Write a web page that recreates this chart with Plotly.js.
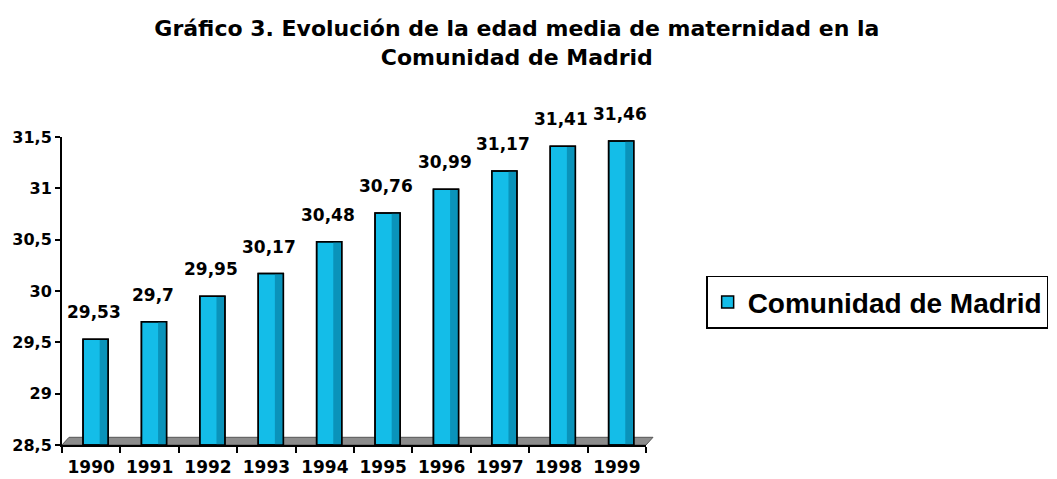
<!DOCTYPE html>
<html><head><meta charset="utf-8">
<script src="https://cdn.plot.ly/plotly-3.0.1.min.js"></script>
<style>body{margin:0;background:#fff}#c{width:1057px;height:479px}</style>
</head><body><div id="c"></div>
<script>
const years = ['1990','1991','1992','1993','1994','1995','1996','1997','1998','1999'];
const edadMedia = [29.53, 29.7, 29.95, 30.17, 30.48, 30.76, 30.99, 31.17, 31.41, 31.46];
const valueLabels = ['29,53','29,7','29,95','30,17','30,48','30,76','30,99','31,17','31,41','31,46'];
const seriesName = 'Comunidad de Madrid';

const ARIAL = 'Liberation Sans, Arial, sans-serif';
const WIDE = 'DejaVu Sans, Verdana, sans-serif';
const BASE = 28.5;
const heights = edadMedia.map(v => v - BASE);

const barMain = {
  type: 'bar', x: years, y: heights, base: BASE, name: seriesName,
  width: 0.43, offset: -0.14,
  marker: {color: '#14bde8', line: {color: '#000', width: 1.5}},
  hoverinfo: 'skip', showlegend: true
};
// darker right-hand shading of the same bars (cylinder look)
const barShade = {
  type: 'bar', x: years, y: heights, base: BASE, name: seriesName,
  width: 0.13, offset: 0.145,
  marker: {color: '#0a93ba', line: {width: 0}},
  hoverinfo: 'skip', showlegend: false
};
const barOutline = {
  type: 'bar', x: years, y: heights, base: BASE, name: seriesName,
  width: 0.43, offset: -0.14,
  marker: {color: 'rgba(0,0,0,0)', line: {color: '#000', width: 1.5}},
  hoverinfo: 'skip', showlegend: false
};

const annotations = years.map((yr, i) => ({
  x: i, y: edadMedia[i], xref: 'x', yref: 'y',
  text: '<b>' + valueLabels[i] + '</b>', showarrow: false,
  yanchor: 'bottom', yshift: 15, xshift: 3,
  font: {family: WIDE, size: 17, color: '#000'}
}));

const layout = {
  width: 1057, height: 479,
  margin: {l: 62, r: 411, t: 137, b: 34, autoexpand: false},
  paper_bgcolor: '#fff', plot_bgcolor: '#fff',
  separators: ',.',
  barmode: 'overlay',
  title: {text: '<b>Gráfico 3. Evolución de la edad media de maternidad en la<br>Comunidad de Madrid</b>',
          x: 0.489, xanchor: 'center', xref: 'container', yref: 'container', y: 0.924, yanchor: 'top',
          font: {family: WIDE, size: 22, color: '#000'}},
  xaxis: {type: 'category', categoryorder: 'array', categoryarray: years, range: [-0.5, 9.5],
          showgrid: false, zeroline: false,
          showline: true, linecolor: '#000', linewidth: 2,
          ticks: 'outside', tickson: 'boundaries', ticklen: 6, tickcolor: '#000', tickwidth: 2,
          tickangle: 0, ticklabelstandoff: 6,
          tickfont: {family: WIDE, size: 17, color: '#000', weight: 'bold'}},
  yaxis: {range: [28.5, 31.5], showgrid: false, zeroline: false,
          dtick: 0.5, tick0: 28.5,
          showline: true, linecolor: '#000', linewidth: 2,
          ticks: 'outside', ticklen: 5, tickcolor: '#000', tickwidth: 2,
          tickfont: {family: WIDE, size: 16, color: '#000', weight: 'bold'}},
  showlegend: true,
  legend: {x: 1.103, xanchor: 'left', y: 0.463, yanchor: 'middle',
           bordercolor: '#000', borderwidth: 1.5, bgcolor: '#fff',
           font: {family: ARIAL, size: 28, color: '#000', weight: 'bold'}},
  shapes: [
    {type: 'path', xref: 'paper', yref: 'paper', layer: 'below',
     path: 'M 0,0 L 0.012,0.025 L 1.012,0.025 L 1,0 Z',
     fillcolor: '#8c8c8c', line: {color: '#555', width: 1}}
  ],
  annotations: annotations
};
Plotly.newPlot('c', [barMain, barShade, barOutline], layout, {staticPlot: true});
</script></body></html>
